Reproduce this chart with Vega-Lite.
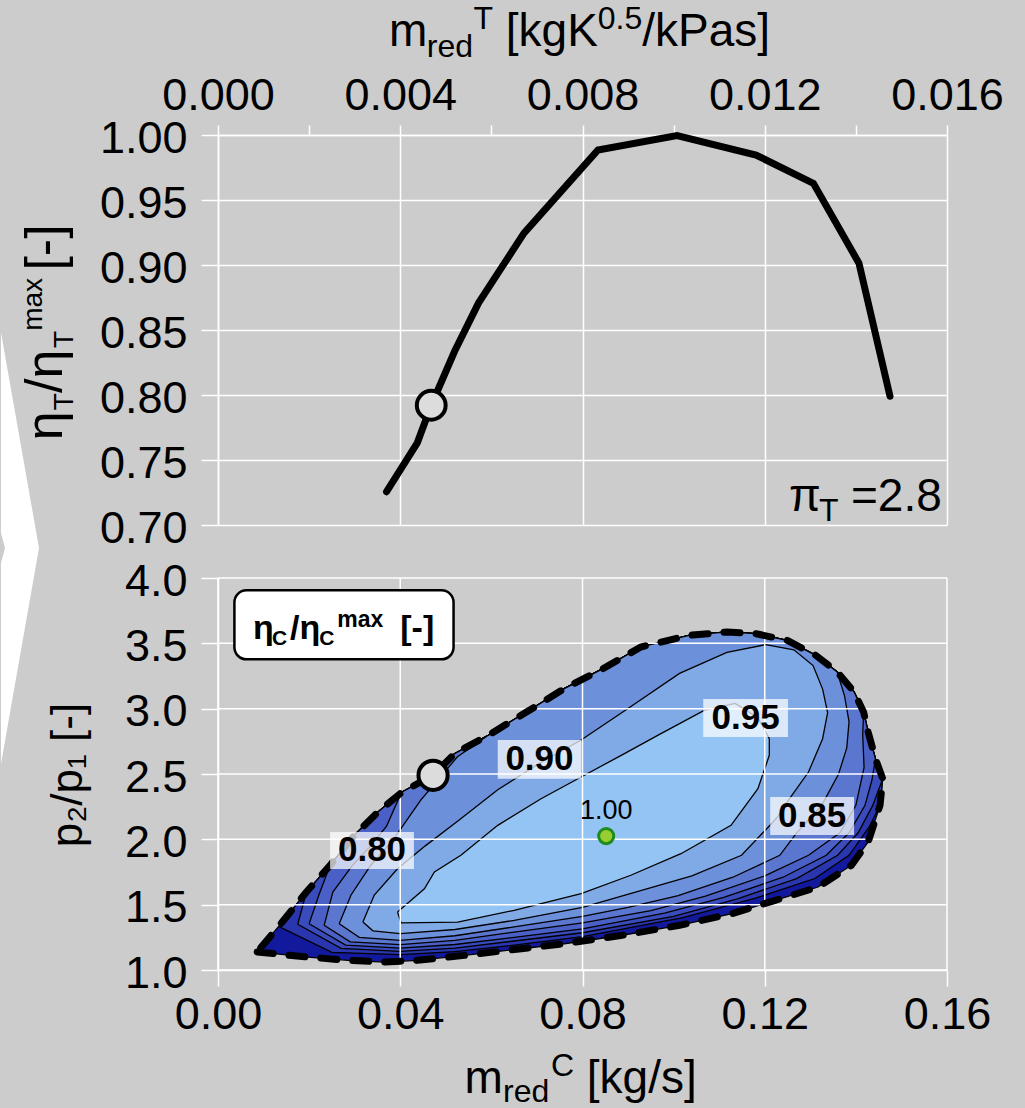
{
"$schema":"https://vega.github.io/schema/vega-lite/v6.json",
"usermeta":{"embedOptions":{"actions":false}},
"background":"#cccccc",
"padding":{"left":0,"top":2,"right":23,"bottom":0},
"bounds":"flush",
"spacing":53,
"resolve":{"scale":{"x":"independent","y":"independent"}},
"config":{
"view":{"stroke":null},
"axis":{"gridColor":"#ffffff","gridWidth":1.5,"domainColor":"#ffffff","domainWidth":1.5,"tickColor":"#ffffff","tickWidth":1.5,"labelFont":"Liberation Sans","labelFontSize":45,"labelColor":"#000000","labelFlush":false,"labelOverlap":false,"labelBound":false},
"text":{"font":"Liberation Sans","color":"#000000"}
},
"datasets":{
"turb":[{"x":0.0037,"y":0.7256},{"x":0.004374,"y":0.7632},{"x":0.00468,"y":0.7921},{"x":0.005193,"y":0.8336},{"x":0.005717,"y":0.8707},{"x":0.006716,"y":0.9245},{"x":0.00834,"y":0.9885},{"x":0.010074,"y":0.9995},{"x":0.011808,"y":0.9846},{"x":0.013068,"y":0.9628},{"x":0.014068,"y":0.9014},{"x":0.014749,"y":0.799}],
"turbPt":[{"x":0.00468,"y":0.7921}],
"chev":[{"i":0,"x":-0.0047627,"y":0.84816},{"i":1,"x":-0.0039287,"y":0.68226},{"i":2,"x":-0.0047627,"y":0.51636},{"i":3,"x":-0.0047627,"y":0.67074},{"i":4,"x":-0.0046749,"y":0.68226},{"i":5,"x":-0.0047627,"y":0.69378},{"i":6,"x":-0.0047627,"y":0.84816}],
"ttxt":[{"t":"m","x":0.003753,"y":1.0686,"r":"big"},{"t":"red","x":0.004583,"y":1.0601,"r":"small"},{"t":"T","x":0.005608,"y":1.0816,"r":"small"},{"t":"[kgK","x":0.006316,"y":1.0686,"r":"big"},{"t":"0.5","x":0.008336,"y":1.0816,"r":"small"},{"t":"/kPas]","x":0.009312,"y":1.0686,"r":"big"},{"t":"π","x":0.012532,"y":0.7107,"r":"big"},{"t":"T","x":0.013191,"y":0.703,"r":"small"},{"t":"=2.8","x":0.013893,"y":0.7107,"r":"big"}],
"tyt":[{"t":"η","x":-0.003424,"y":0.76521,"r":"big"},{"t":"T","x":-0.003182,"y":0.78825,"r":"small"},{"t":"/η","x":-0.003424,"y":0.80154,"r":"big"},{"t":"T","x":-0.003182,"y":0.8361,"r":"small"},{"t":"max","x":-0.003863,"y":0.84939,"r":"small"},{"t":"[-]","x":-0.003424,"y":0.89571,"r":"big"}],
"gx":[{"x":0},{"x":0.04},{"x":0.08},{"x":0.12},{"x":0.16}],
"gy":[{"y":1},{"y":1.5},{"y":2},{"y":2.5},{"y":3},{"y":3.5},{"y":4}],
"b":[{"i":0,"x":0.0086,"y":1.138},{"i":1,"x":0.0197,"y":1.099},{"i":2,"x":0.0285,"y":1.074},{"i":3,"x":0.0365,"y":1.061},{"i":4,"x":0.0438,"y":1.074},{"i":5,"x":0.0541,"y":1.112},{"i":6,"x":0.0634,"y":1.15},{"i":7,"x":0.076,"y":1.201},{"i":8,"x":0.0887,"y":1.266},{"i":9,"x":0.1013,"y":1.342},{"i":10,"x":0.1128,"y":1.431},{"i":11,"x":0.1223,"y":1.533},{"i":12,"x":0.1317,"y":1.635},{"i":13,"x":0.139,"y":1.801},{"i":14,"x":0.1427,"y":1.98},{"i":15,"x":0.1453,"y":2.26},{"i":16,"x":0.1459,"y":2.464},{"i":17,"x":0.1443,"y":2.617},{"i":18,"x":0.1427,"y":2.821},{"i":19,"x":0.1417,"y":2.974},{"i":20,"x":0.1396,"y":3.128},{"i":21,"x":0.1359,"y":3.281},{"i":22,"x":0.1312,"y":3.408},{"i":23,"x":0.1249,"y":3.523},{"i":24,"x":0.118,"y":3.574},{"i":25,"x":0.1117,"y":3.587},{"i":26,"x":0.1034,"y":3.561},{"i":27,"x":0.0928,"y":3.472},{"i":28,"x":0.0845,"y":3.306},{"i":29,"x":0.076,"y":3.153},{"i":30,"x":0.0677,"y":2.974},{"i":31,"x":0.0593,"y":2.796},{"i":32,"x":0.0519,"y":2.655},{"i":33,"x":0.0472,"y":2.49},{"i":34,"x":0.0404,"y":2.362},{"i":35,"x":0.0351,"y":2.209},{"i":36,"x":0.0299,"y":2.031},{"i":37,"x":0.0246,"y":1.801},{"i":38,"x":0.0194,"y":1.597},{"i":39,"x":0.0141,"y":1.367},{"i":40,"x":0.0086,"y":1.138}],
"c65":[{"i":0,"x":0.0135,"y":1.33},{"i":1,"x":0.0141,"y":1.367},{"i":2,"x":0.0194,"y":1.597},{"i":3,"x":0.0246,"y":1.801},{"i":4,"x":0.0299,"y":2.031},{"i":5,"x":0.0351,"y":2.209},{"i":6,"x":0.0404,"y":2.362},{"i":7,"x":0.0472,"y":2.49},{"i":8,"x":0.0519,"y":2.655},{"i":9,"x":0.0593,"y":2.796},{"i":10,"x":0.0677,"y":2.974},{"i":11,"x":0.076,"y":3.153},{"i":12,"x":0.0845,"y":3.306},{"i":13,"x":0.0928,"y":3.472},{"i":14,"x":0.1034,"y":3.561},{"i":15,"x":0.1117,"y":3.587},{"i":16,"x":0.118,"y":3.574},{"i":17,"x":0.1249,"y":3.523},{"i":18,"x":0.1312,"y":3.408},{"i":19,"x":0.1359,"y":3.281},{"i":20,"x":0.1396,"y":3.128},{"i":21,"x":0.1417,"y":2.974},{"i":22,"x":0.1427,"y":2.821},{"i":23,"x":0.1443,"y":2.617},{"i":24,"x":0.1459,"y":2.464},{"i":25,"x":0.1453,"y":2.26},{"i":26,"x":0.143,"y":2.1},{"i":27,"x":0.1385,"y":1.878},{"i":28,"x":0.131,"y":1.7},{"i":29,"x":0.118,"y":1.55},{"i":30,"x":0.102,"y":1.4},{"i":31,"x":0.08,"y":1.255},{"i":32,"x":0.065,"y":1.19},{"i":33,"x":0.052,"y":1.14},{"i":34,"x":0.04,"y":1.117},{"i":35,"x":0.025,"y":1.135},{"i":36,"x":0.0135,"y":1.33}],
"c70":[{"i":0,"x":0.0175,"y":1.35},{"i":1,"x":0.0194,"y":1.597},{"i":2,"x":0.0246,"y":1.801},{"i":3,"x":0.0299,"y":2.031},{"i":4,"x":0.0351,"y":2.209},{"i":5,"x":0.0404,"y":2.362},{"i":6,"x":0.0472,"y":2.49},{"i":7,"x":0.0519,"y":2.655},{"i":8,"x":0.0593,"y":2.796},{"i":9,"x":0.0677,"y":2.974},{"i":10,"x":0.076,"y":3.153},{"i":11,"x":0.0845,"y":3.306},{"i":12,"x":0.0928,"y":3.472},{"i":13,"x":0.1034,"y":3.561},{"i":14,"x":0.1117,"y":3.587},{"i":15,"x":0.118,"y":3.574},{"i":16,"x":0.1249,"y":3.523},{"i":17,"x":0.1312,"y":3.408},{"i":18,"x":0.1359,"y":3.281},{"i":19,"x":0.1396,"y":3.128},{"i":20,"x":0.1417,"y":2.974},{"i":21,"x":0.1427,"y":2.821},{"i":22,"x":0.1443,"y":2.617},{"i":23,"x":0.1459,"y":2.464},{"i":24,"x":0.1437,"y":2.26},{"i":25,"x":0.1405,"y":2.05},{"i":26,"x":0.136,"y":1.878},{"i":27,"x":0.127,"y":1.7},{"i":28,"x":0.114,"y":1.545},{"i":29,"x":0.1,"y":1.41},{"i":30,"x":0.08,"y":1.285},{"i":31,"x":0.065,"y":1.222},{"i":32,"x":0.052,"y":1.168},{"i":33,"x":0.04,"y":1.143},{"i":34,"x":0.027,"y":1.165},{"i":35,"x":0.0175,"y":1.35}],
"c75":[{"i":0,"x":0.02,"y":1.354},{"i":1,"x":0.0222,"y":1.58},{"i":2,"x":0.0246,"y":1.801},{"i":3,"x":0.0299,"y":2.031},{"i":4,"x":0.0351,"y":2.209},{"i":5,"x":0.0404,"y":2.362},{"i":6,"x":0.0472,"y":2.49},{"i":7,"x":0.0519,"y":2.655},{"i":8,"x":0.0593,"y":2.796},{"i":9,"x":0.0677,"y":2.974},{"i":10,"x":0.076,"y":3.153},{"i":11,"x":0.0845,"y":3.306},{"i":12,"x":0.0928,"y":3.472},{"i":13,"x":0.1034,"y":3.561},{"i":14,"x":0.1117,"y":3.587},{"i":15,"x":0.118,"y":3.574},{"i":16,"x":0.1249,"y":3.523},{"i":17,"x":0.1312,"y":3.408},{"i":18,"x":0.1359,"y":3.281},{"i":19,"x":0.1396,"y":3.128},{"i":20,"x":0.1417,"y":2.974},{"i":21,"x":0.1427,"y":2.821},{"i":22,"x":0.1443,"y":2.617},{"i":23,"x":0.1435,"y":2.45},{"i":24,"x":0.142,"y":2.26},{"i":25,"x":0.1385,"y":2.05},{"i":26,"x":0.1335,"y":1.878},{"i":27,"x":0.124,"y":1.71},{"i":28,"x":0.111,"y":1.555},{"i":29,"x":0.098,"y":1.435},{"i":30,"x":0.08,"y":1.315},{"i":31,"x":0.065,"y":1.25},{"i":32,"x":0.052,"y":1.195},{"i":33,"x":0.04,"y":1.168},{"i":34,"x":0.028,"y":1.19},{"i":35,"x":0.02,"y":1.354}],
"c80":[{"i":0,"x":0.0233,"y":1.342},{"i":1,"x":0.0252,"y":1.597},{"i":2,"x":0.0295,"y":1.8},{"i":3,"x":0.0335,"y":1.95},{"i":4,"x":0.037,"y":2.1},{"i":5,"x":0.0395,"y":2.3},{"i":6,"x":0.0404,"y":2.362},{"i":7,"x":0.0472,"y":2.49},{"i":8,"x":0.0519,"y":2.655},{"i":9,"x":0.0593,"y":2.796},{"i":10,"x":0.0677,"y":2.974},{"i":11,"x":0.076,"y":3.153},{"i":12,"x":0.0845,"y":3.306},{"i":13,"x":0.0928,"y":3.472},{"i":14,"x":0.1034,"y":3.561},{"i":15,"x":0.1117,"y":3.587},{"i":16,"x":0.118,"y":3.574},{"i":17,"x":0.1249,"y":3.523},{"i":18,"x":0.1312,"y":3.408},{"i":19,"x":0.1359,"y":3.281},{"i":20,"x":0.1396,"y":3.128},{"i":21,"x":0.1417,"y":2.974},{"i":22,"x":0.1415,"y":2.8},{"i":23,"x":0.1418,"y":2.55},{"i":24,"x":0.14,"y":2.26},{"i":25,"x":0.1365,"y":2.05},{"i":26,"x":0.1296,"y":1.878},{"i":27,"x":0.12,"y":1.72},{"i":28,"x":0.107,"y":1.565},{"i":29,"x":0.095,"y":1.455},{"i":30,"x":0.08,"y":1.36},{"i":31,"x":0.065,"y":1.29},{"i":32,"x":0.052,"y":1.227},{"i":33,"x":0.04,"y":1.194},{"i":34,"x":0.029,"y":1.215},{"i":35,"x":0.0233,"y":1.342}],
"c85":[{"i":0,"x":0.0266,"y":1.354},{"i":1,"x":0.0292,"y":1.574},{"i":2,"x":0.0335,"y":1.8},{"i":3,"x":0.0385,"y":2.0},{"i":4,"x":0.0445,"y":2.3},{"i":5,"x":0.0525,"y":2.63},{"i":6,"x":0.0593,"y":2.796},{"i":7,"x":0.0677,"y":2.974},{"i":8,"x":0.076,"y":3.153},{"i":9,"x":0.0845,"y":3.306},{"i":10,"x":0.0928,"y":3.472},{"i":11,"x":0.1034,"y":3.561},{"i":12,"x":0.1117,"y":3.587},{"i":13,"x":0.118,"y":3.574},{"i":14,"x":0.1249,"y":3.523},{"i":15,"x":0.1312,"y":3.408},{"i":16,"x":0.1359,"y":3.281},{"i":17,"x":0.1375,"y":3.1},{"i":18,"x":0.1385,"y":2.9},{"i":19,"x":0.138,"y":2.7},{"i":20,"x":0.1362,"y":2.5},{"i":21,"x":0.1325,"y":2.26},{"i":22,"x":0.1304,"y":2.18},{"i":23,"x":0.127,"y":2.05},{"i":24,"x":0.1233,"y":1.878},{"i":25,"x":0.113,"y":1.71},{"i":26,"x":0.101,"y":1.57},{"i":27,"x":0.09,"y":1.48},{"i":28,"x":0.08,"y":1.41},{"i":29,"x":0.065,"y":1.33},{"i":30,"x":0.052,"y":1.262},{"i":31,"x":0.04,"y":1.227},{"i":32,"x":0.031,"y":1.25},{"i":33,"x":0.0266,"y":1.354}],
"c90":[{"i":0,"x":0.0318,"y":1.367},{"i":1,"x":0.0343,"y":1.574},{"i":2,"x":0.0394,"y":1.775},{"i":3,"x":0.0455,"y":1.95},{"i":4,"x":0.053,"y":2.15},{"i":5,"x":0.0614,"y":2.38},{"i":6,"x":0.0705,"y":2.58},{"i":7,"x":0.0797,"y":2.76},{"i":8,"x":0.0899,"y":3.0},{"i":9,"x":0.1013,"y":3.27},{"i":10,"x":0.1117,"y":3.43},{"i":11,"x":0.1202,"y":3.49},{"i":12,"x":0.1264,"y":3.45},{"i":13,"x":0.1306,"y":3.33},{"i":14,"x":0.1327,"y":3.15},{"i":15,"x":0.1338,"y":2.97},{"i":16,"x":0.1327,"y":2.77},{"i":17,"x":0.1296,"y":2.515},{"i":18,"x":0.1254,"y":2.31},{"i":19,"x":0.123,"y":2.18},{"i":20,"x":0.1212,"y":2.11},{"i":21,"x":0.1149,"y":1.878},{"i":22,"x":0.104,"y":1.72},{"i":23,"x":0.092,"y":1.6},{"i":24,"x":0.08,"y":1.48},{"i":25,"x":0.065,"y":1.38},{"i":26,"x":0.052,"y":1.31},{"i":27,"x":0.04,"y":1.278},{"i":28,"x":0.034,"y":1.3},{"i":29,"x":0.0318,"y":1.367}],
"c95":[{"i":0,"x":0.0394,"y":1.444},{"i":1,"x":0.0453,"y":1.622},{"i":2,"x":0.0475,"y":1.75},{"i":3,"x":0.0533,"y":1.878},{"i":4,"x":0.0614,"y":2.107},{"i":5,"x":0.0709,"y":2.311},{"i":6,"x":0.0797,"y":2.477},{"i":7,"x":0.0885,"y":2.643},{"i":8,"x":0.0965,"y":2.796},{"i":9,"x":0.1067,"y":2.987},{"i":10,"x":0.1135,"y":3.04},{"i":11,"x":0.1185,"y":2.93},{"i":12,"x":0.121,"y":2.77},{"i":13,"x":0.121,"y":2.643},{"i":14,"x":0.1185,"y":2.388},{"i":15,"x":0.1126,"y":2.107},{"i":16,"x":0.1016,"y":1.89},{"i":17,"x":0.0906,"y":1.725},{"i":18,"x":0.0797,"y":1.584},{"i":19,"x":0.065,"y":1.457},{"i":20,"x":0.0526,"y":1.367},{"i":21,"x":0.0402,"y":1.36},{"i":22,"x":0.0394,"y":1.444}],
"lab":[{"t":"0.80","x":0.0338,"y":1.915,"x1":0.0246,"x2":0.043,"y1":1.773,"y2":2.056},{"t":"0.90","x":0.07055,"y":2.612,"x1":0.0614,"x2":0.0797,"y1":2.464,"y2":2.76},{"t":"0.95","x":0.1158,"y":2.9285,"x1":0.1065,"x2":0.1251,"y1":2.783,"y2":3.074},{"t":"0.85","x":0.1304,"y":2.1785,"x1":0.1212,"x2":0.1396,"y1":2.033,"y2":2.324}],
"best":[{"x":0.0852,"y":2.025}],
"bestTxt":[{"t":"1.00","x":0.0852,"y":2.156}],
"op":[{"x":0.0472,"y":2.49}],
"leg":[{"x1":0.0036,"x2":0.0517,"y1":3.378,"y2":3.906}],
"legTxt":[{"t":"η","x":0.00768,"y":3.533,"r":"big"},{"t":"C","x":0.01185,"y":3.487,"r":"sub"},{"t":"/η","x":0.0158,"y":3.533,"r":"big"},{"t":"C","x":0.0222,"y":3.487,"r":"sub"},{"t":"max","x":0.0262,"y":3.625,"r":"sup"},{"t":"[-]","x":0.04,"y":3.533,"r":"big"}],
"btxt":[{"t":"m","x":0.0541,"y":0.06,"r":"big"},{"t":"red","x":0.06255,"y":-0.01,"r":"small"},{"t":"C","x":0.07309,"y":0.19,"r":"small"},{"t":"[kg/s]","x":0.08094,"y":0.06,"r":"big"}],
"bytxt":[{"t":"p₂/p₁ [-]","x":-0.02985,"y":2.492}]
},
"vconcat":[
{
"width":729,"height":390,
"layer":[
{"data":{"name":"turb"},"mark":{"type":"line","color":"#000000","strokeWidth":7,"strokeCap":"round","strokeJoin":"miter"},
"encoding":{
"x":{"field":"x","type":"quantitative","scale":{"domain":[0,0.016],"nice":false,"zero":false},"axis":{"orient":"top","title":null,"values":[0,0.002,0.004,0.006,0.008,0.01,0.012,0.014,0.016],"labelExpr":"abs(datum.value*250-round(datum.value*250))<0.01 ? format(datum.value,'.3f') : ''","gridOpacity":{"condition":{"test":"abs(datum.value*250-round(datum.value*250))<0.01","value":1},"value":0},"tickSize":10,"labelPadding":7}},
"y":{"field":"y","type":"quantitative","scale":{"domain":[0.7,1.0],"nice":false,"zero":false},"axis":{"title":null,"values":[0.7,0.725,0.75,0.775,0.8,0.825,0.85,0.875,0.9,0.925,0.95,0.975,1.0],"labelExpr":"abs(datum.value*20-round(datum.value*20))<0.01 ? format(datum.value,'.2f') : ''","gridOpacity":{"condition":{"test":"abs(datum.value*20-round(datum.value*20))<0.01","value":1},"value":0},"tickSize":{"condition":{"test":"abs(datum.value*20-round(datum.value*20))<0.01","value":17},"value":9},"labelPadding":14,"labelOffset":3}}
}},
{"data":{"name":"chev"},"mark":{"type":"line","fill":"#ffffff","strokeWidth":0},
"encoding":{"x":{"field":"x","type":"quantitative","scale":{"domain":[0,0.016],"nice":false,"zero":false}},"y":{"field":"y","type":"quantitative","scale":{"domain":[0.7,1.0],"nice":false,"zero":false}},"order":{"field":"i"}}},
{"data":{"name":"turbPt"},"mark":{"type":"point","filled":true,"fill":"#dcdcdc","stroke":"#000000","strokeWidth":4,"size":830,"opacity":1},
"encoding":{"x":{"field":"x","type":"quantitative","scale":{"domain":[0,0.016],"nice":false,"zero":false}},"y":{"field":"y","type":"quantitative","scale":{"domain":[0.7,1.0],"nice":false,"zero":false}}}},
{"data":{"name":"ttxt"},"transform":[{"filter":"datum.r=='big'"}],"mark":{"type":"text","align":"left","baseline":"alphabetic","fontSize":46},
"encoding":{"x":{"field":"x","type":"quantitative","scale":{"domain":[0,0.016],"nice":false,"zero":false}},"y":{"field":"y","type":"quantitative","scale":{"domain":[0.7,1.0],"nice":false,"zero":false}},"text":{"field":"t"}}},
{"data":{"name":"ttxt"},"transform":[{"filter":"datum.r=='small'"}],"mark":{"type":"text","align":"left","baseline":"alphabetic","fontSize":32},
"encoding":{"x":{"field":"x","type":"quantitative","scale":{"domain":[0,0.016],"nice":false,"zero":false}},"y":{"field":"y","type":"quantitative","scale":{"domain":[0.7,1.0],"nice":false,"zero":false}},"text":{"field":"t"}}},
{"data":{"name":"tyt"},"transform":[{"filter":"datum.r=='big'"}],"mark":{"type":"text","align":"left","baseline":"alphabetic","angle":270,"fontSize":52},
"encoding":{"x":{"field":"x","type":"quantitative","scale":{"domain":[0,0.016],"nice":false,"zero":false}},"y":{"field":"y","type":"quantitative","scale":{"domain":[0.7,1.0],"nice":false,"zero":false}},"text":{"field":"t"}}},
{"data":{"name":"tyt"},"transform":[{"filter":"datum.r=='small'"}],"mark":{"type":"text","align":"left","baseline":"alphabetic","angle":270,"fontSize":28},
"encoding":{"x":{"field":"x","type":"quantitative","scale":{"domain":[0,0.016],"nice":false,"zero":false}},"y":{"field":"y","type":"quantitative","scale":{"domain":[0.7,1.0],"nice":false,"zero":false}},"text":{"field":"t"}}}
]
},
{
"width":729,"height":392,
"layer":[
{"data":{"name":"b"},"mark":{"type":"line","fill":"#12199c","stroke":"#000000","strokeWidth":1.3},
"encoding":{
"x":{"field":"x","type":"quantitative","scale":{"domain":[0,0.16],"nice":false,"zero":false},"axis":{"title":null,"values":[0,0.04,0.08,0.12,0.16],"format":".2f","grid":false,"tickSize":16,"labelPadding":6}},
"y":{"field":"y","type":"quantitative","scale":{"domain":[1,4],"nice":false,"zero":false},"axis":{"title":null,"values":[1,1.5,2,2.5,3,3.5,4],"format":".1f","grid":false,"tickSize":17,"labelPadding":14,"labelOffset":3}},
"order":{"field":"i"}}},
{"data":{"name":"c65"},"mark":{"type":"line","fill":"#2a36ae","stroke":"#000000","strokeWidth":1.3},
"encoding":{"x":{"field":"x","type":"quantitative","scale":{"domain":[0,0.16],"nice":false,"zero":false}},"y":{"field":"y","type":"quantitative","scale":{"domain":[1,4],"nice":false,"zero":false}},"order":{"field":"i"}}},
{"data":{"name":"c70"},"mark":{"type":"line","fill":"#3a4cbc","stroke":"#000000","strokeWidth":1.3},
"encoding":{"x":{"field":"x","type":"quantitative","scale":{"domain":[0,0.16],"nice":false,"zero":false}},"y":{"field":"y","type":"quantitative","scale":{"domain":[1,4],"nice":false,"zero":false}},"order":{"field":"i"}}},
{"data":{"name":"c75"},"mark":{"type":"line","fill":"#4a60c6","stroke":"#000000","strokeWidth":1.3},
"encoding":{"x":{"field":"x","type":"quantitative","scale":{"domain":[0,0.16],"nice":false,"zero":false}},"y":{"field":"y","type":"quantitative","scale":{"domain":[1,4],"nice":false,"zero":false}},"order":{"field":"i"}}},
{"data":{"name":"c80"},"mark":{"type":"line","fill":"#5a76cf","stroke":"#000000","strokeWidth":1.3},
"encoding":{"x":{"field":"x","type":"quantitative","scale":{"domain":[0,0.16],"nice":false,"zero":false}},"y":{"field":"y","type":"quantitative","scale":{"domain":[1,4],"nice":false,"zero":false}},"order":{"field":"i"}}},
{"data":{"name":"c85"},"mark":{"type":"line","fill":"#6c90da","stroke":"#000000","strokeWidth":1.3},
"encoding":{"x":{"field":"x","type":"quantitative","scale":{"domain":[0,0.16],"nice":false,"zero":false}},"y":{"field":"y","type":"quantitative","scale":{"domain":[1,4],"nice":false,"zero":false}},"order":{"field":"i"}}},
{"data":{"name":"c90"},"mark":{"type":"line","fill":"#80aae6","stroke":"#000000","strokeWidth":1.3},
"encoding":{"x":{"field":"x","type":"quantitative","scale":{"domain":[0,0.16],"nice":false,"zero":false}},"y":{"field":"y","type":"quantitative","scale":{"domain":[1,4],"nice":false,"zero":false}},"order":{"field":"i"}}},
{"data":{"name":"c95"},"mark":{"type":"line","fill":"#94c4f3","stroke":"#000000","strokeWidth":1.3},
"encoding":{"x":{"field":"x","type":"quantitative","scale":{"domain":[0,0.16],"nice":false,"zero":false}},"y":{"field":"y","type":"quantitative","scale":{"domain":[1,4],"nice":false,"zero":false}},"order":{"field":"i"}}},
{"data":{"name":"gx"},"mark":{"type":"rule","color":"#ffffff","strokeWidth":1.5},
"encoding":{"x":{"field":"x","type":"quantitative","scale":{"domain":[0,0.16],"nice":false,"zero":false}},"y":{"datum":1,"type":"quantitative","scale":{"domain":[1,4],"nice":false,"zero":false}},"y2":{"datum":4}}},
{"data":{"name":"gy"},"mark":{"type":"rule","color":"#ffffff","strokeWidth":1.5},
"encoding":{"y":{"field":"y","type":"quantitative","scale":{"domain":[1,4],"nice":false,"zero":false}},"x":{"datum":0,"type":"quantitative","scale":{"domain":[0,0.16],"nice":false,"zero":false}},"x2":{"datum":0.16}}},
{"data":{"name":"b"},"mark":{"type":"line","color":"#000000","strokeWidth":7,"strokeDash":[16,16],"strokeCap":"round"},
"encoding":{"x":{"field":"x","type":"quantitative","scale":{"domain":[0,0.16],"nice":false,"zero":false}},"y":{"field":"y","type":"quantitative","scale":{"domain":[1,4],"nice":false,"zero":false}},"order":{"field":"i"}}},
{"data":{"name":"lab"},"mark":{"type":"rect","fill":"#ffffff","opacity":0.72},
"encoding":{"x":{"field":"x1","type":"quantitative","scale":{"domain":[0,0.16],"nice":false,"zero":false}},"x2":{"field":"x2"},"y":{"field":"y1","type":"quantitative","scale":{"domain":[1,4],"nice":false,"zero":false}},"y2":{"field":"y2"}}},
{"data":{"name":"lab"},"mark":{"type":"text","align":"center","baseline":"middle","fontSize":35,"fontWeight":"bold"},
"encoding":{"x":{"field":"x","type":"quantitative","scale":{"domain":[0,0.16],"nice":false,"zero":false}},"y":{"field":"y","type":"quantitative","scale":{"domain":[1,4],"nice":false,"zero":false}},"text":{"field":"t"}}},
{"data":{"name":"best"},"mark":{"type":"point","filled":true,"fill":"#9acd32","stroke":"#1e8c1e","strokeWidth":3,"size":230,"opacity":1},
"encoding":{"x":{"field":"x","type":"quantitative","scale":{"domain":[0,0.16],"nice":false,"zero":false}},"y":{"field":"y","type":"quantitative","scale":{"domain":[1,4],"nice":false,"zero":false}}}},
{"data":{"name":"bestTxt"},"mark":{"type":"text","align":"center","baseline":"alphabetic","fontSize":27},
"encoding":{"x":{"field":"x","type":"quantitative","scale":{"domain":[0,0.16],"nice":false,"zero":false}},"y":{"field":"y","type":"quantitative","scale":{"domain":[1,4],"nice":false,"zero":false}},"text":{"field":"t"}}},
{"data":{"name":"op"},"mark":{"type":"point","filled":true,"fill":"#dcdcdc","stroke":"#000000","strokeWidth":4,"size":850,"opacity":1},
"encoding":{"x":{"field":"x","type":"quantitative","scale":{"domain":[0,0.16],"nice":false,"zero":false}},"y":{"field":"y","type":"quantitative","scale":{"domain":[1,4],"nice":false,"zero":false}}}},
{"data":{"name":"leg"},"mark":{"type":"rect","fill":"#ffffff","stroke":"#000000","strokeWidth":2.5,"cornerRadius":12},
"encoding":{"x":{"field":"x1","type":"quantitative","scale":{"domain":[0,0.16],"nice":false,"zero":false}},"x2":{"field":"x2"},"y":{"field":"y1","type":"quantitative","scale":{"domain":[1,4],"nice":false,"zero":false}},"y2":{"field":"y2"}}},
{"data":{"name":"legTxt"},"transform":[{"filter":"datum.r=='big'"}],"mark":{"type":"text","align":"left","baseline":"alphabetic","fontSize":34,"fontWeight":"bold"},
"encoding":{"x":{"field":"x","type":"quantitative","scale":{"domain":[0,0.16],"nice":false,"zero":false}},"y":{"field":"y","type":"quantitative","scale":{"domain":[1,4],"nice":false,"zero":false}},"text":{"field":"t"}}},
{"data":{"name":"legTxt"},"transform":[{"filter":"datum.r=='sub'"}],"mark":{"type":"text","align":"left","baseline":"alphabetic","fontSize":21,"fontWeight":"bold"},
"encoding":{"x":{"field":"x","type":"quantitative","scale":{"domain":[0,0.16],"nice":false,"zero":false}},"y":{"field":"y","type":"quantitative","scale":{"domain":[1,4],"nice":false,"zero":false}},"text":{"field":"t"}}},
{"data":{"name":"legTxt"},"transform":[{"filter":"datum.r=='sup'"}],"mark":{"type":"text","align":"left","baseline":"alphabetic","fontSize":23,"fontWeight":"bold"},
"encoding":{"x":{"field":"x","type":"quantitative","scale":{"domain":[0,0.16],"nice":false,"zero":false}},"y":{"field":"y","type":"quantitative","scale":{"domain":[1,4],"nice":false,"zero":false}},"text":{"field":"t"}}},
{"data":{"name":"btxt"},"transform":[{"filter":"datum.r=='big'"}],"mark":{"type":"text","align":"left","baseline":"alphabetic","fontSize":46},
"encoding":{"x":{"field":"x","type":"quantitative","scale":{"domain":[0,0.16],"nice":false,"zero":false}},"y":{"field":"y","type":"quantitative","scale":{"domain":[1,4],"nice":false,"zero":false}},"text":{"field":"t"}}},
{"data":{"name":"btxt"},"transform":[{"filter":"datum.r=='small'"}],"mark":{"type":"text","align":"left","baseline":"alphabetic","fontSize":32},
"encoding":{"x":{"field":"x","type":"quantitative","scale":{"domain":[0,0.16],"nice":false,"zero":false}},"y":{"field":"y","type":"quantitative","scale":{"domain":[1,4],"nice":false,"zero":false}},"text":{"field":"t"}}},
{"data":{"name":"bytxt"},"mark":{"type":"text","align":"center","baseline":"alphabetic","angle":270,"fontSize":44},
"encoding":{"x":{"field":"x","type":"quantitative","scale":{"domain":[0,0.16],"nice":false,"zero":false}},"y":{"field":"y","type":"quantitative","scale":{"domain":[1,4],"nice":false,"zero":false}},"text":{"field":"t"}}}
]
}
]
}
